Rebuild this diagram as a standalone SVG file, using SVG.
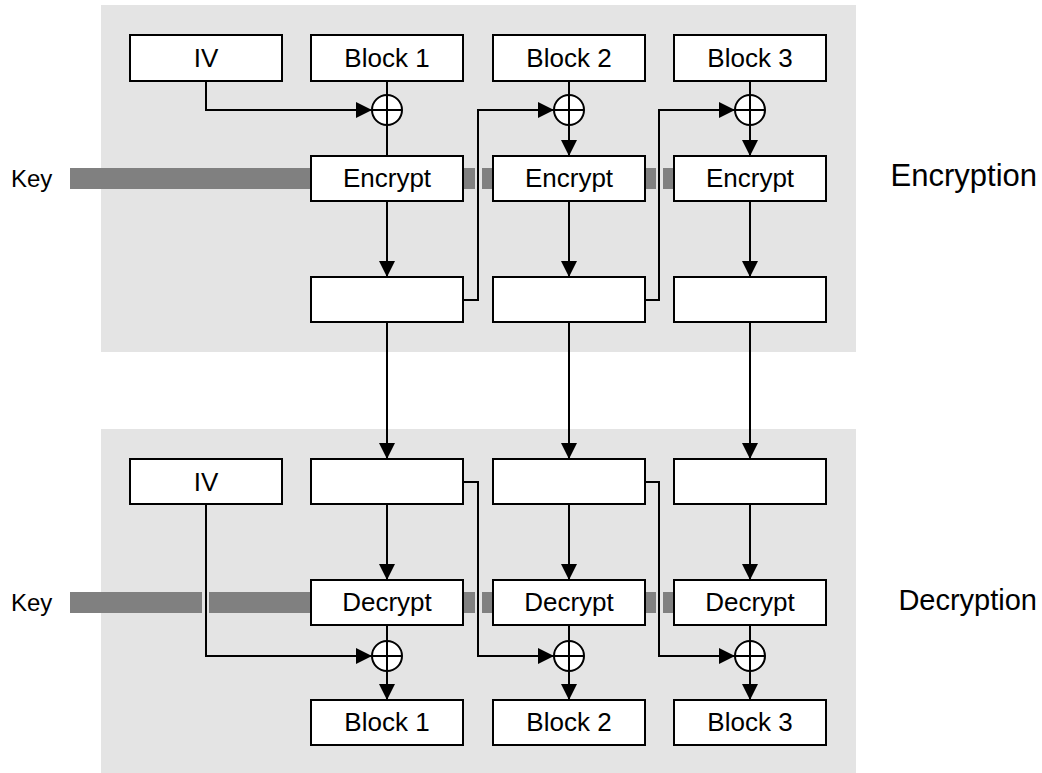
<svg xmlns="http://www.w3.org/2000/svg" width="1042" height="773" viewBox="0 0 1042 773">
<style>
.panel{fill:#e4e4e4}
.box{fill:#fff;stroke:#000;stroke-width:2}
.t{font-family:"Liberation Sans",Arial,sans-serif;font-size:26px;fill:#000;text-anchor:middle}
.lbl{font-family:"Liberation Sans",Arial,sans-serif;font-size:24px;fill:#000}
.title{font-family:"Liberation Sans",Arial,sans-serif;fill:#000;text-anchor:end}
.ln{fill:none;stroke:#000;stroke-width:2}
.arr{fill:none;stroke:#000;stroke-width:2;marker-end:url(#ah)}
.key{fill:#808080}
.xor{fill:#fff;stroke:#000;stroke-width:2}
</style>
<defs>
<marker id="ah" markerWidth="16" markerHeight="16" viewBox="0 0 16 16" refX="16" refY="8" orient="auto" markerUnits="userSpaceOnUse">
<path d="M0,0 L16,8 L0,16 Z" fill="#000"/>
</marker>
</defs>
<rect class="panel" x="101" y="5" width="755" height="347"/>
<rect class="panel" x="101" y="429" width="755" height="344"/>

<g id="keybars">
<rect class="key" x="70" y="168" width="241" height="21"/>
<rect class="key" x="464" y="168" width="11" height="21"/>
<rect class="key" x="482" y="168" width="11" height="21"/>
<rect class="key" x="645" y="168" width="11" height="21"/>
<rect class="key" x="663" y="168" width="11" height="21"/>
<rect class="key" x="70" y="592" width="132" height="21"/>
<rect class="key" x="209" y="592" width="102" height="21"/>
<rect class="key" x="464" y="592" width="11" height="21"/>
<rect class="key" x="482" y="592" width="11" height="21"/>
<rect class="key" x="645" y="592" width="11" height="21"/>
<rect class="key" x="663" y="592" width="11" height="21"/>
</g>

<g id="labels">
<text class="lbl" x="11" y="187">Key</text>
<text class="lbl" x="11" y="611">Key</text>
<text class="title" x="1037" y="186" font-size="31">Encryption</text>
<text class="title" x="1037" y="610" font-size="29">Decryption</text>
</g>

<g id="connectors">
<line class="ln" x1="387" y1="81" x2="387" y2="95"/>
<line class="ln" x1="569" y1="81" x2="569" y2="95"/>
<line class="ln" x1="750" y1="81" x2="750" y2="95"/>
<path class="arr" d="M206,81 V110 H372"/>
<line class="ln" x1="387" y1="125" x2="387" y2="156"/>
<line class="arr" x1="569" y1="125" x2="569" y2="156"/>
<line class="arr" x1="750" y1="125" x2="750" y2="156"/>
<line class="arr" x1="387" y1="201" x2="387" y2="277"/>
<line class="arr" x1="569" y1="201" x2="569" y2="277"/>
<line class="arr" x1="750" y1="201" x2="750" y2="277"/>
<path class="arr" d="M464,300 H478 V110 H554"/>
<path class="arr" d="M645,300 H659 V110 H735"/>
<line class="arr" x1="387" y1="322" x2="387" y2="459"/>
<line class="arr" x1="569" y1="322" x2="569" y2="459"/>
<line class="arr" x1="750" y1="322" x2="750" y2="459"/>
<line class="arr" x1="387" y1="504" x2="387" y2="580"/>
<line class="arr" x1="569" y1="504" x2="569" y2="580"/>
<line class="arr" x1="750" y1="504" x2="750" y2="580"/>
<line class="ln" x1="387" y1="625" x2="387" y2="641"/>
<line class="ln" x1="569" y1="625" x2="569" y2="641"/>
<line class="ln" x1="750" y1="625" x2="750" y2="641"/>
<line class="arr" x1="387" y1="671" x2="387" y2="700"/>
<line class="arr" x1="569" y1="671" x2="569" y2="700"/>
<line class="arr" x1="750" y1="671" x2="750" y2="700"/>
<path class="arr" d="M206,504 V656 H372"/>
<path class="arr" d="M464,482 H478 V656 H554"/>
<path class="arr" d="M645,482 H659 V656 H735"/>
</g>

<g id="enc-iv"><rect class="box" x="130" y="35" width="152" height="46"/><text class="t" x="206" y="67">IV</text></g>
<g id="enc-block1"><rect class="box" x="311" y="35" width="152" height="46"/><text class="t" x="387" y="67">Block 1</text></g>
<g id="enc-block2"><rect class="box" x="493" y="35" width="152" height="46"/><text class="t" x="569" y="67">Block 2</text></g>
<g id="enc-block3"><rect class="box" x="674" y="35" width="152" height="46"/><text class="t" x="750" y="67">Block 3</text></g>

<g id="enc-xor1"><circle class="xor" cx="387" cy="110" r="15"/><path class="ln" d="M372,110 H402 M387,95 V125"/></g>
<g id="enc-xor2"><circle class="xor" cx="569" cy="110" r="15"/><path class="ln" d="M554,110 H584 M569,95 V125"/></g>
<g id="enc-xor3"><circle class="xor" cx="750" cy="110" r="15"/><path class="ln" d="M735,110 H765 M750,95 V125"/></g>

<g id="encrypt1"><rect class="box" x="311" y="156" width="152" height="45"/><text class="t" x="387" y="187">Encrypt</text></g>
<g id="encrypt2"><rect class="box" x="493" y="156" width="152" height="45"/><text class="t" x="569" y="187">Encrypt</text></g>
<g id="encrypt3"><rect class="box" x="674" y="156" width="152" height="45"/><text class="t" x="750" y="187">Encrypt</text></g>

<g id="cipher1"><rect class="box" x="311" y="277" width="152" height="45"/></g>
<g id="cipher2"><rect class="box" x="493" y="277" width="152" height="45"/></g>
<g id="cipher3"><rect class="box" x="674" y="277" width="152" height="45"/></g>

<g id="dec-iv"><rect class="box" x="130" y="459" width="152" height="45"/><text class="t" x="206" y="491">IV</text></g>
<g id="dec-cipher1"><rect class="box" x="311" y="459" width="152" height="45"/></g>
<g id="dec-cipher2"><rect class="box" x="493" y="459" width="152" height="45"/></g>
<g id="dec-cipher3"><rect class="box" x="674" y="459" width="152" height="45"/></g>

<g id="decrypt1"><rect class="box" x="311" y="580" width="152" height="45"/><text class="t" x="387" y="611">Decrypt</text></g>
<g id="decrypt2"><rect class="box" x="493" y="580" width="152" height="45"/><text class="t" x="569" y="611">Decrypt</text></g>
<g id="decrypt3"><rect class="box" x="674" y="580" width="152" height="45"/><text class="t" x="750" y="611">Decrypt</text></g>

<g id="dec-xor1"><circle class="xor" cx="387" cy="656" r="15"/><path class="ln" d="M372,656 H402 M387,641 V671"/></g>
<g id="dec-xor2"><circle class="xor" cx="569" cy="656" r="15"/><path class="ln" d="M554,656 H584 M569,641 V671"/></g>
<g id="dec-xor3"><circle class="xor" cx="750" cy="656" r="15"/><path class="ln" d="M735,656 H765 M750,641 V671"/></g>

<g id="dec-block1"><rect class="box" x="311" y="700" width="152" height="45"/><text class="t" x="387" y="731">Block 1</text></g>
<g id="dec-block2"><rect class="box" x="493" y="700" width="152" height="45"/><text class="t" x="569" y="731">Block 2</text></g>
<g id="dec-block3"><rect class="box" x="674" y="700" width="152" height="45"/><text class="t" x="750" y="731">Block 3</text></g>
</svg>
